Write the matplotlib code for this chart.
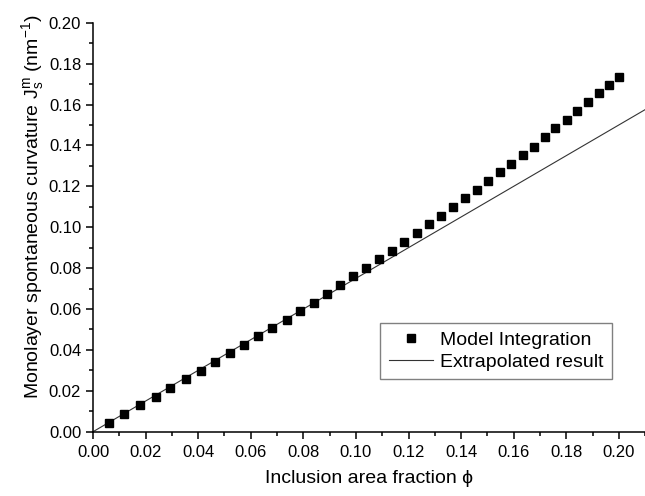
import matplotlib
matplotlib.use("Agg")
import matplotlib.pyplot as plt
from matplotlib.ticker import MultipleLocator, FormatStrFormatter

plt.rcParams['font.family'] = ['Liberation Sans', 'DejaVu Sans']
plt.rcParams['mathtext.fontset'] = 'custom'
plt.rcParams['mathtext.rm'] = 'Liberation Sans'
plt.rcParams['mathtext.it'] = 'Liberation Sans'
plt.rcParams['mathtext.bf'] = 'Liberation Sans:bold'

# Model integration points (inclusion area fraction, spontaneous curvature)
phi_model = [0.0061, 0.0119, 0.0179, 0.0238, 0.0294, 0.0354, 0.0410, 0.0464,
             0.0521, 0.0574, 0.0629, 0.0682, 0.0737, 0.0787, 0.0840, 0.0891,
             0.0940, 0.0990, 0.1038, 0.1088, 0.1136, 0.1184, 0.1231, 0.1278,
             0.1323, 0.1369, 0.1416, 0.1459, 0.1503, 0.1548, 0.1591, 0.1634,
             0.1676, 0.1718, 0.1759, 0.1801, 0.1841, 0.1882, 0.1923, 0.1962,
             0.2000]
js_model = [0.0044, 0.0087, 0.0129, 0.0171, 0.0214, 0.0256, 0.0298, 0.0341,
            0.0383, 0.0425, 0.0468, 0.0506, 0.0548, 0.0590, 0.0631, 0.0674,
            0.0718, 0.0761, 0.0802, 0.0843, 0.0885, 0.0928, 0.0972, 0.1014,
            0.1056, 0.1100, 0.1144, 0.1183, 0.1227, 0.1270, 0.1311, 0.1353,
            0.1394, 0.1443, 0.1484, 0.1526, 0.1570, 0.1612, 0.1655, 0.1697,
            0.1736]

# Extrapolated (linear) result
phi_line = [0.0, 0.21]
js_line = [0.0, 0.1575]

fig = plt.figure(figsize=(6.45, 4.96), dpi=100)
ax = fig.add_axes([0.1442, 0.1296, 0.856, 0.8246])

ax.plot(phi_line, js_line, color='#333333', lw=0.8, label='Extrapolated result', zorder=2)
ax.plot(phi_model, js_model, ls='none', marker='s', ms=5.8, color='black',
        label='Model Integration', zorder=3)

ax.set_xlim(0, 0.21)
ax.set_ylim(0, 0.20)

ax.xaxis.set_major_locator(MultipleLocator(0.02))
ax.xaxis.set_minor_locator(MultipleLocator(0.01))
ax.yaxis.set_major_locator(MultipleLocator(0.02))
ax.yaxis.set_minor_locator(MultipleLocator(0.01))
ax.xaxis.set_major_formatter(FormatStrFormatter('%.2f'))
ax.yaxis.set_major_formatter(FormatStrFormatter('%.2f'))

ax.spines['top'].set_visible(False)
ax.spines['right'].set_visible(False)
for s in ('left', 'bottom'):
    ax.spines[s].set_linewidth(1.1)

ax.tick_params(which='major', direction='out', length=5, width=1.1, labelsize=12)
ax.tick_params(axis='y', which='major', pad=3.5)
ax.tick_params(axis='x', which='major', pad=4.5)
ax.tick_params(which='minor', direction='out', length=2.8, width=1.1)

ax.set_xlabel('Inclusion area fraction ϕ', fontsize=14, labelpad=7)
ax.set_ylabel(r'Monolayer spontaneous curvature J$_{\mathregular{s}}^{\mathregular{m}}$ (nm$^{\mathregular{-1}}$)',
              fontsize=14)
ax.yaxis.set_label_coords(-0.086, 0.55)

handles, labels = ax.get_legend_handles_labels()
leg = ax.legend(handles[::-1], labels[::-1], loc='upper right',
                bbox_to_anchor=(0.9488, 0.3488), bbox_transform=fig.transFigure,
                borderaxespad=0, fancybox=False, edgecolor='#808080', fontsize=14,
                handlelength=2.26, handletextpad=0.4, borderpad=0.42, labelspacing=0.25,
                framealpha=1)
leg.get_frame().set_linewidth(1.0)

fig.savefig('out.png', dpi=100)
